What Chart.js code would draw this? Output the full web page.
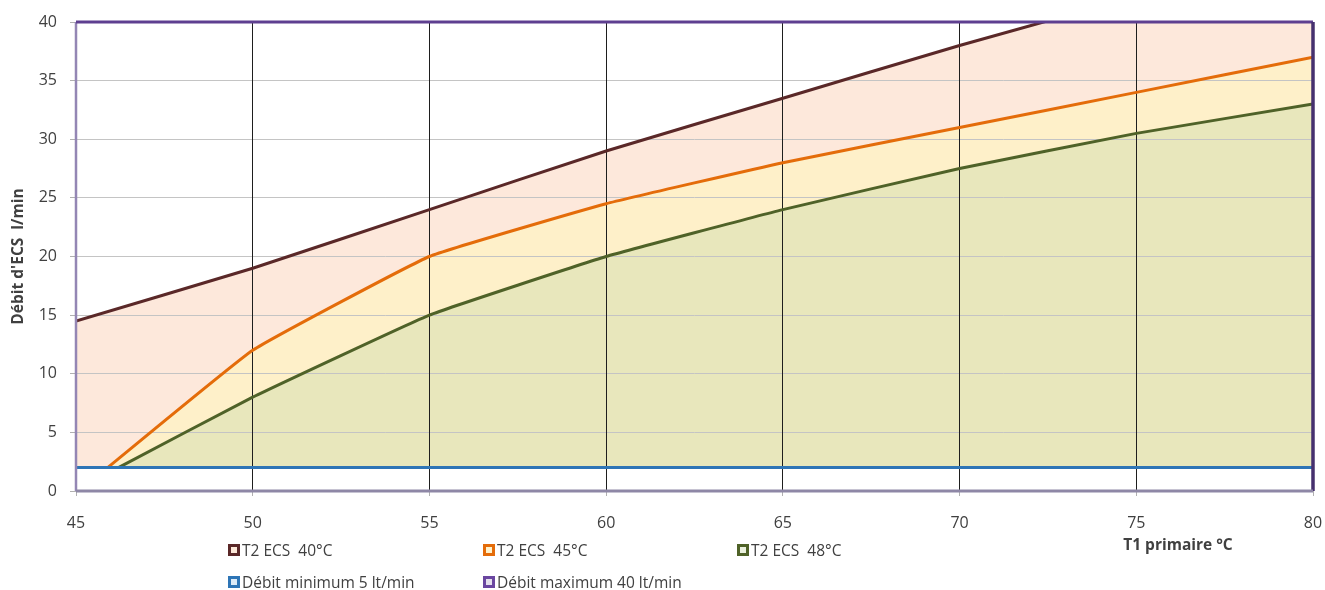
<!DOCTYPE html>
<html>
<head>
<meta charset="utf-8">
<script src="https://cdn.jsdelivr.net/npm/chart.js@4/dist/chart.umd.min.js"></script>
<style>
  html, body { margin: 0; padding: 0; background: #fff; }
  #wrap { position: relative; width: 1325px; height: 590px; overflow: hidden; }
  #c { position: absolute; left: 0; top: 0; }
  .lg { position: absolute; display: flex; align-items: center; font-family: 'Open Sans', sans-serif; font-size: 15.5px; color: #404040; white-space: pre; line-height: 16px; }
  .mk { width: 6px; height: 6px; border: 3px solid; margin-right: 2px; }
</style>
</head>
<body>
<div id="wrap">
  <canvas id="c" width="1325" height="590"></canvas>
</div>
<script>
// ---- data ----
const x40 = [45, 50, 55, 60, 65, 70, 75, 80];
const y40 = [14.5, 19, 24, 29, 33.5, 38, 42.2, 46.4];
const x45 = [45.9, 50, 55, 60, 65, 70, 75, 80];
const y45 = [2, 12, 20, 24.5, 28, 31, 34, 37];
const x48 = [46.2, 50, 55, 60, 65, 70, 75, 80];
const y48 = [2, 8, 15, 20, 24, 27.5, 30.5, 33];
const xMin = [45, 80];
const yMin = [2, 2];
const xMax = [45, 45, 80, 80, 45];
const yMax = [0, 40, 40, 0, 0];
const xTicks = [45, 50, 55, 60, 65, 70, 75, 80];
const yTicks = [0, 5, 10, 15, 20, 25, 30, 35, 40];
const labels = ['T2 ECS  40°C', 'T2 ECS  45°C', 'T2 ECS  48°C', 'Débit minimum 5 lt/min', 'Débit maximum 40 lt/min'];
const xTitle = 'T1 primaire °C';
const yTitle = "Débit d'ECS  l/min";

const pts = (xs, ys) => xs.map((x, i) => ({ x: x, y: ys[i] }));

Chart.defaults.font.family = "'Open Sans', sans-serif";
Chart.defaults.color = '#404040';

const FILL_LAST = 2;
const gridOnTop = {
  id: 'gridOnTop',
  afterDatasetDraw(chart, args) {
    if (args.index === FILL_LAST) {
      chart.ctx.save();
      chart.scales.y.drawGrid(chart.chartArea);
      chart.scales.x.drawGrid(chart.chartArea);
      chart.ctx.restore();
    }
  }
};
const xTitlePlugin = {
  id: 'xTitlePlugin',
  afterDraw(chart) {
    const ctx = chart.ctx;
    ctx.save();
    ctx.font = "bold 15.5px 'Open Sans', sans-serif";
    ctx.fillStyle = '#404040';
    ctx.textAlign = 'center';
    ctx.textBaseline = 'middle';
    ctx.fillText(xTitle, chart.chartArea.right - 135, 546);
    ctx.restore();
  }
};

const T = 0.1;
const fillDs = (xs, ys, col, ord) => ({
  data: pts(xs, ys), borderWidth: 0, borderColor: 'transparent', backgroundColor: col,
  fill: { value: 2 }, pointRadius: 0, tension: T, order: ord
});
const lineDs = (lab, xs, ys, col, ord, tension) => ({
  label: lab, data: pts(xs, ys), borderWidth: 3, borderColor: col, backgroundColor: col,
  fill: false, pointRadius: 0, tension: tension, order: ord
});

const colors = ['#5A2828', '#E46C0A', '#4F6228', '#2E75B6', '#6A46A0'];
const inner = ['#FDE9D9', '#FFF2CC', '#EBF1DE', '#DDEBF7', '#E4DFEC'];

// frame edges: left, top, right, bottom
const edgeColors = ['#9486B4', '#5E3F90', '#46306E', '#8E87A6'];
const edgeWidths = [2.5, 3, 3.5, 3];
const maxDs = lineDs(labels[4], xMax, yMax, colors[4], 0, 0);
maxDs.clip = false;
maxDs.segment = {
  borderColor: c => edgeColors[c.p0DataIndex],
  borderWidth: c => edgeWidths[c.p0DataIndex]
};

new Chart(document.getElementById('c'), {
  type: 'line',
  data: {
    datasets: [
      fillDs(x40, y40, '#FDE8DB', 10),
      fillDs(x45, y45, '#FEF0C9', 9),
      fillDs(x48, y48, '#E8E7BC', 8),
      lineDs(labels[0], x40, y40, colors[0], 4, T),
      lineDs(labels[1], x45, y45, colors[1], 3, T),
      lineDs(labels[2], x48, y48, colors[2], 2, T),
      lineDs(labels[3], xMin, yMin, colors[3], 1, 0),
      maxDs
    ]
  },
  options: {
    responsive: false,
    animation: false,
    events: [],
    layout: { padding: { top: 22, right: 12, left: 0, bottom: 0 } },
    plugins: { legend: { display: false }, tooltip: { enabled: false } },
    scales: {
      x: {
        type: 'linear', min: 45, max: 80,
        afterBuildTicks: s => { s.ticks = xTicks.map(v => ({ value: v })); },
        afterFit: s => { s.height = 99; s.paddingLeft = 0; s.paddingRight = 0; },
        border: { display: false },
        grid: { color: '#1E1E1E', lineWidth: 1, tickLength: 5, tickColor: '#B0B0B0', drawOnChartArea: true },
        ticks: { padding: 18, font: { size: 16 }, color: '#404040', maxRotation: 0 }
      },
      y: {
        min: 0, max: 40,
        afterBuildTicks: s => { s.ticks = yTicks.map(v => ({ value: v })); },
        afterFit: s => { s.width = 76; s.paddingTop = 0; s.paddingBottom = 0; },
        border: { display: false },
        grid: { color: '#C4C4C4', lineWidth: 1, tickLength: 6, tickColor: '#B0B0B0' },
        ticks: { padding: 13, font: { size: 16 }, color: '#404040' },
        title: { display: true, text: yTitle, font: { size: 15.5, weight: 'bold' }, color: '#404040', padding: { top: 9, bottom: 0 } }
      }
    }
  },
  plugins: [gridOnTop, xTitlePlugin]
});

// HTML legend built from labels / colours
const wrap = document.getElementById('wrap');
const pos = [[228, 542], [483, 542], [737, 542], [228, 574], [483, 574]];
labels.forEach((lab, i) => {
  const d = document.createElement('div');
  d.className = 'lg';
  d.style.left = pos[i][0] + 'px';
  d.style.top = pos[i][1] + 'px';
  const m = document.createElement('span');
  m.className = 'mk';
  m.style.borderColor = colors[i];
  m.style.background = inner[i];
  d.appendChild(m);
  d.appendChild(document.createTextNode(lab));
  wrap.appendChild(d);
});
</script>
</body>
</html>
